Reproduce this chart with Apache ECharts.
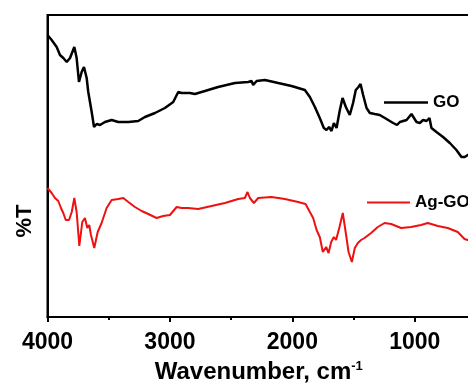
<!DOCTYPE html>
<html>
<head>
<meta charset="utf-8">
<script src="https://cdn.jsdelivr.net/npm/echarts@6/dist/echarts.min.js"></script>
<style>html,body{margin:0;padding:0;background:#fff}#c{width:468px;height:383px}</style>
</head>
<body>
<div id="c"></div>
<script>
// Wavenumber (cm-1) and relative transmittance (arbitrary units)
const waveGO = [4000,3966,3925,3898,3871,3843,3816,3781,3762,3743,3721,3702,3680,3667,3639,3620,3598,3571,3531,3476,3422,3340,3259,3204,3122,3041,2973,2932,2904,2837,2796,2714,2606,2469,2361,2333,2320,2292,2224,2116,2007,1925,1898,1857,1816,1776,1743,1721,1700,1680,1661,1639,1612,1590,1563,1531,1504,1482,1460,1443,1422,1394,1367,1327,1286,1231,1177,1145,1122,1067,1027,986,959,932,904,880,864,823,769,714,660,619,592,567,540];
const transGO = [282,277,270,262,259,255,259,270,259,235,245,250,239,225,205,190,193,192,195,197,195,195,196,200,204,209,215,225,224,224,223,226,230,234,235,236,232,236,237,234,231,228,227,220,210,199,189,187,190,186,194,189,207,219,210,202,214,227,230,233,222,209,204,203,202,198,194,192,195,197,203,195,194,197,196,199,189,185,180,174,167,160,160,162,163];
const waveAgGO = [4000,3966,3939,3912,3890,3871,3851,3824,3802,3781,3762,3740,3716,3694,3675,3659,3645,3618,3590,3558,3517,3476,3422,3381,3340,3286,3231,3177,3109,3055,3000,2945,2904,2851,2769,2660,2551,2442,2388,2366,2347,2314,2279,2170,2061,1953,1892,1857,1830,1802,1776,1751,1724,1704,1683,1661,1643,1615,1588,1561,1541,1514,1490,1465,1439,1411,1357,1302,1247,1193,1112,1030,949,894,812,731,649,594,567,540];
const transAgGO = [129,124,119,116,109,104,97,97,105,119,105,71,95,99,89,92,82,69,85,94,109,117,118,119,115,110,106,103,99,101,102,110,109,109,108,111,114,118,119,125,119,114,119,120,118,115,113,105,99,87,80,65,70,64,75,80,77,90,104,82,65,55,69,74,77,79,84,90,94,93,89,90,92,94,91,89,85,78,77,77];
const tickLabels = [4000,3000,2000,1000];
const minorTicks = [3500,2500,1500];
const seriesNames = ['GO','Ag-GO'];

const zip = (a,b) => a.map((v,i)=>[v,b[i]]);
const FONT = '"Liberation Sans", Arial, sans-serif';
const legendText = {fontFamily:FONT, fontWeight:'bold', fontSize:17, color:'#000'};
const chart = echarts.init(document.getElementById('c'), null, {renderer:'canvas'});
chart.setOption({
  animation:false,
  backgroundColor:'#fff',
  grid:{left:47.5, top:15, width:428.5, height:302, show:true, borderColor:'#000', borderWidth:2, containLabel:false, outerBoundsMode:'none'},
  legend:[
    {data:[seriesNames[0]], left:379, top:89, icon:'rect', itemWidth:44, itemHeight:2.5, textStyle:legendText},
    {data:[seriesNames[1]], left:362, top:189, icon:'rect', itemWidth:43, itemHeight:2, textStyle:legendText}
  ],
  xAxis:[
    {type:'value', min:500, max:4000, inverse:true, position:'bottom',
     axisLine:{show:true, lineStyle:{color:'#000', width:2}},
     axisTick:{show:true, customValues:tickLabels, length:5, inside:false, lineStyle:{color:'#000', width:2}},
     axisLabel:{customValues:tickLabels, formatter:v=>String(v), fontFamily:FONT, fontWeight:'bold', fontSize:23, color:'#000', margin:14},
     splitLine:{show:false},
     name:'{a|Wavenumber, cm}{b|-1}', nameLocation:'middle', nameGap:43,
     nameTextStyle:{padding:[0,6,0,0], rich:{a:{fontFamily:FONT, fontWeight:'bold', fontSize:24, color:'#000'}, b:{fontFamily:FONT, fontWeight:'bold', fontSize:13, color:'#000', verticalAlign:'top', padding:[0,0,12,0]}}}
    },
    {type:'value', min:500, max:4000, inverse:true, position:'bottom',
     axisLine:{show:false},
     axisTick:{show:true, customValues:minorTicks, length:3, inside:false, lineStyle:{color:'#000', width:2}},
     axisLabel:{show:false}, splitLine:{show:false}}
  ],
  yAxis:{type:'value', min:0, max:302, axisLine:{show:true, lineStyle:{color:'#000', width:2}}, axisTick:{show:false}, axisLabel:{show:false}, splitLine:{show:false}},
  graphic:[{type:'text', x:25, y:221, rotation:Math.PI/2, style:{text:'%T', font:'bold 22px "Liberation Sans", Arial, sans-serif', fill:'#000', textAlign:'center', textVerticalAlign:'middle'}}],
  series:[
    {name:seriesNames[0], type:'line', xAxisIndex:0, data:zip(waveGO, transGO), symbol:'none', showSymbol:false, lineStyle:{color:'#000', width:2.5}, itemStyle:{color:'#000'}},
    {name:seriesNames[1], type:'line', xAxisIndex:0, data:zip(waveAgGO, transAgGO), symbol:'none', showSymbol:false, lineStyle:{color:'#ee1111', width:2}, itemStyle:{color:'#ee1111'}}
  ]
});
</script>
</body>
</html>
